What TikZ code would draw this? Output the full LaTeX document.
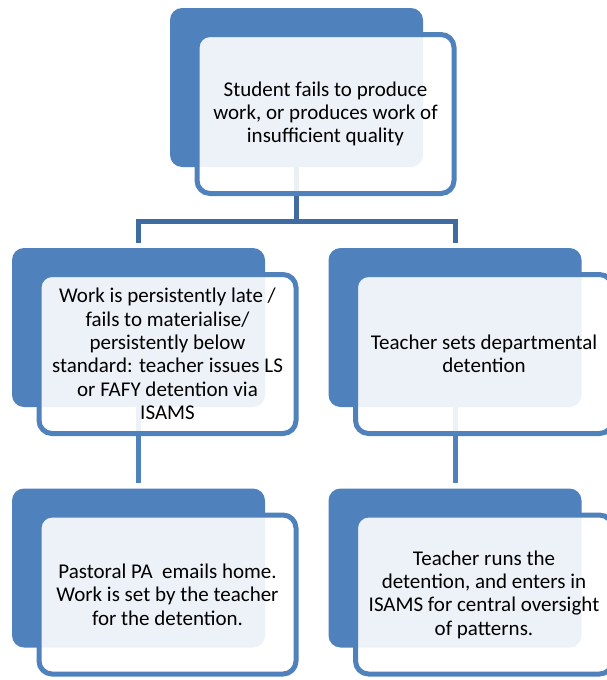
\documentclass[tikz,border=0pt]{standalone}
\usepackage{fontspec}
\setmainfont{Carlito}
\usetikzlibrary{
    calc,          % Offsets of the front boxes.
    positioning,
    backgrounds    % Links behind the boxes.
}
\definecolor{boxblue}{RGB}{79,129,189}
\definecolor{linkblue}{RGB}{64,107,161}
\tikzset{
    backbox/.style={fill=boxblue, rounded corners=12pt,
        minimum width=253pt, minimum height=159pt, inner sep=0pt},
    frontbox/.style={draw=boxblue, line width=5pt, fill=white,
        fill opacity=0.9, text opacity=1, rounded corners=13pt,
        minimum width=257pt, minimum height=159pt, inner sep=0pt,
        align=center, font=\fontsize{21}{23.3}\selectfont},
    toplink/.style={draw=linkblue, line width=5pt},
    sublink/.style={draw=boxblue, line width=5pt}
}

\begin{document}
\begin{tikzpicture}[x=1pt, y=-1pt]
                \useasboundingbox (0,0) rectangle (606,680);
                % back boxes
                \node[backbox] (b0) at (296.5,87.5) {};
                \node[backbox] (b1) at (138.5,327.5) {};
                \node[backbox] (b2) at (455,327.5) {};
                \node[backbox] (b3) at (138.5,568) {};
                \node[backbox] (b4) at (455,568) {};
                % front boxes with the texts
                \node[frontbox] (f0) at ($(b0)+(29,26.5)$)
                    {Student fails to produce\\work, or produces work of\\insufficient quality};
                \node[frontbox] (f1) at ($(b1)+(29,26.5)$)
                    {Work is persistently late /\\fails to materialise/\\persistently below\\standard: teacher issues LS\\or FAFY detention via\\ISAMS};
                \node[frontbox] (f2) at ($(b2)+(29,26.5)$)
                    {Teacher sets departmental\\detention};
                \node[frontbox] (f3) at ($(b3)+(29,26.5)$)
                    {Pastoral PA\ \ emails home.\\Work is set by the teacher\\for the detention.};
                \node[frontbox] (f4) at ($(b4)+(29,26.5)$)
                    {Teacher runs the\\detention, and enters in\\ISAMS for central oversight\\of patterns.};
                \begin{scope}[on background layer]
                    \coordinate (hub) at ($(b0.south)+(0,54)$);
                    \draw[toplink] (b0.south) to (hub);
                    \draw[toplink] (hub) -| ($(b1.north)+(0,-5)$);
                    \draw[toplink] (hub) -| ($(b2.north)+(0,-5)$);
                    \draw[sublink] (b1.south) to ($(b3.north)+(0,-5)$);
                    \draw[sublink] (b2.south) to ($(b4.north)+(0,-5)$);
                \end{scope}
            \end{tikzpicture}
\end{document}
